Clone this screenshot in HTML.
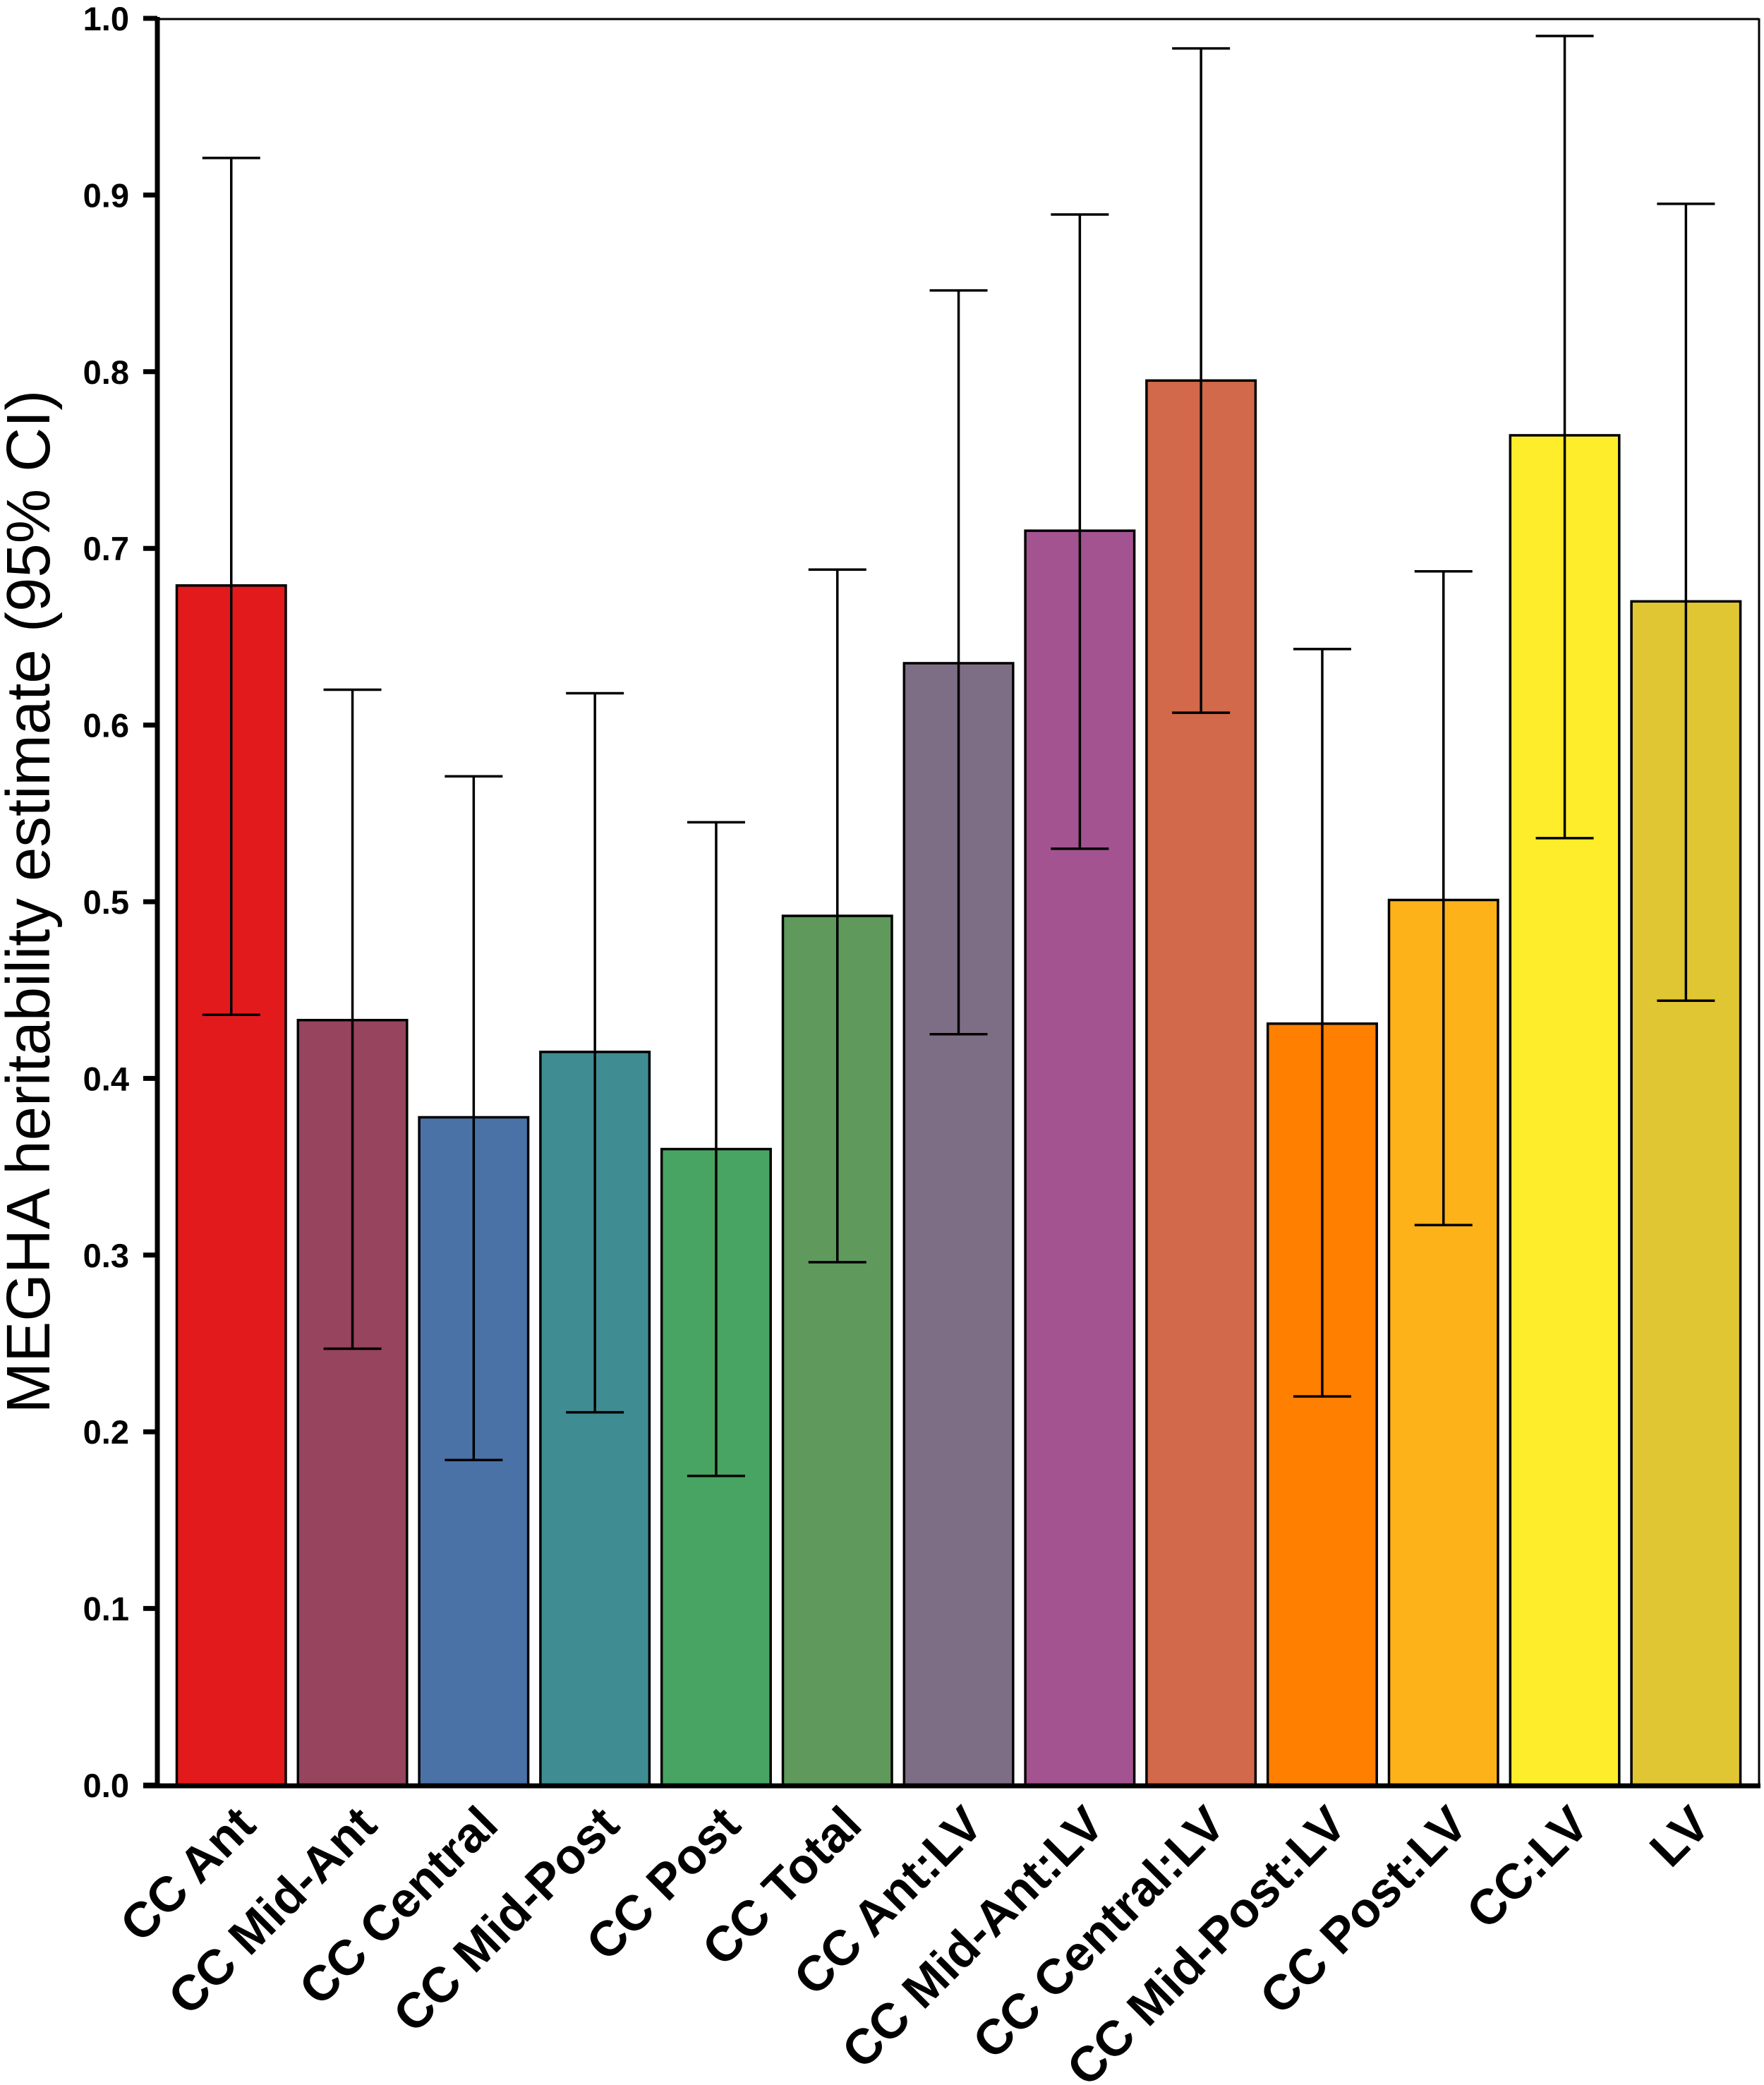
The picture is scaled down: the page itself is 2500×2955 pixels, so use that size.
<!DOCTYPE html>
<html><head><meta charset="utf-8"><style>
html,body{margin:0;padding:0;background:#fff;}
svg{display:block;}
text{font-family:"Liberation Sans",Arial,sans-serif;}
</style></head><body>
<svg id="chart" width="2500" height="2955" viewBox="0 0 2500 2955" xmlns="http://www.w3.org/2000/svg">
<rect x="0" y="0" width="2500" height="2955" fill="#fff"/>
<g id="bars"></g>
<g id="errs"></g>
<g id="axes"></g>
<g id="xlabels"></g>
<text x="0" y="0" transform="translate(70,1278) rotate(-90)" text-anchor="middle" font-size="87">MEGHA heritability estimate (95% CI)</text>
</svg>
<script>
const categories = ["CC Ant","CC Mid-Ant","CC Central","CC Mid-Post","CC Post","CC Total","CC Ant:LV","CC Mid-Ant:LV","CC Central:LV","CC Mid-Post:LV","CC Post:LV","CC:LV","LV"];
const estimates = [0.679,0.433,0.378,0.415,0.360,0.492,0.635,0.710,0.795,0.431,0.501,0.764,0.670];
const ciLower = [0.436,0.247,0.184,0.211,0.175,0.296,0.425,0.530,0.607,0.220,0.317,0.536,0.444];
const ciUpper = [0.921,0.620,0.571,0.618,0.545,0.688,0.846,0.889,0.983,0.643,0.687,0.990,0.895];
const colors = ["#e31a1c","#97445f","#4a72a6","#3f8d93","#48a462","#5f995c","#7e6e85","#a3538f","#d2694a","#ff7f00","#fdb219","#fded2a","#e1c633"];
const yTicks = [0.0,0.1,0.2,0.3,0.4,0.5,0.6,0.7,0.8,0.9,1.0];
const yTickLabels = ["0.0","0.1","0.2","0.3","0.4","0.5","0.6","0.7","0.8","0.9","1.0"];

const NS="http://www.w3.org/2000/svg";
const plotL=223, plotR=2493, plotT=26, plotB=2530;
const firstBar=250.5, pitch=171.8, barW=154.5, capW=82;
function y(v){return plotB-(plotB-plotT)*v;}
function xc(i){return firstBar+pitch*i+barW/2;}
function mk(tag,attrs,parent){const e=document.createElementNS(NS,tag);for(const k in attrs)e.setAttribute(k,attrs[k]);parent.appendChild(e);return e;}
const bars=document.getElementById('bars'),errs=document.getElementById('errs'),axes=document.getElementById('axes'),xl=document.getElementById('xlabels');

categories.forEach((c,i)=>{
  const r=mk('rect',{x:xc(i)-barW/2,y:y(estimates[i]),width:barW,height:y(0)-y(estimates[i]),fill:colors[i],stroke:'#000','stroke-width':3.5},bars);
  
  
  const g=mk('g',{stroke:'#000','stroke-width':3.5},errs);
  
  
  mk('line',{x1:xc(i),x2:xc(i),y1:y(ciLower[i]),y2:y(ciUpper[i])},g);
  mk('line',{x1:xc(i)-capW/2,x2:xc(i)+capW/2,y1:y(ciLower[i]),y2:y(ciLower[i])},g);
  mk('line',{x1:xc(i)-capW/2,x2:xc(i)+capW/2,y1:y(ciUpper[i]),y2:y(ciUpper[i])},g);
  const t=mk('text',{x:0,y:0,transform:'translate('+(xc(i)+38)+',2590) rotate(-45)','text-anchor':'end','font-size':70,'font-weight':'bold'},xl);
  t.textContent=c;
  
  
});

const frame=mk('g',{},axes);


mk('line',{x1:plotL,x2:plotR,y1:plotT+1,y2:plotT+1,stroke:'#000','stroke-width':3},frame);
mk('line',{x1:plotR,x2:plotR,y1:plotT,y2:plotB,stroke:'#000','stroke-width':3},frame);
mk('line',{x1:plotL,x2:plotL,y1:plotT-2,y2:plotB+4,stroke:'#000','stroke-width':7},frame);
mk('line',{x1:plotL-20,x2:plotR+2,y1:plotB+1,y2:plotB+1,stroke:'#000','stroke-width':7},frame);
yTicks.forEach((v,i)=>{
  const g=mk('g',{},axes);
  
  
  mk('line',{x1:plotL-20,x2:plotL,y1:y(v),y2:y(v),stroke:'#000','stroke-width':7},g);
  const t=mk('text',{x:183,y:y(v)+17,'text-anchor':'end','font-size':47,'font-weight':'bold'},g);
  t.textContent=yTickLabels[i];
});
</script>
</body></html>
